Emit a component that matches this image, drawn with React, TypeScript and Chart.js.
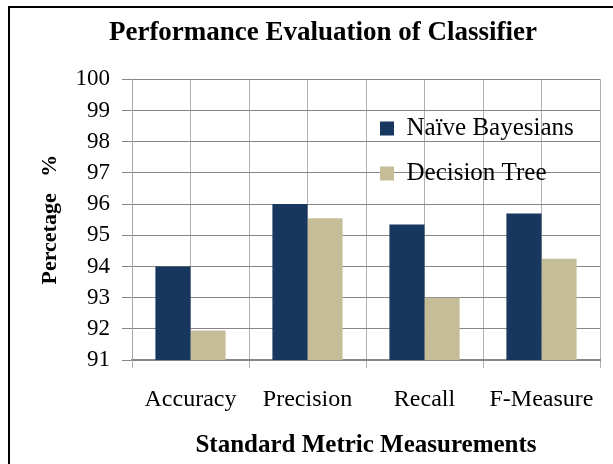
import React, { useEffect, useRef } from "react";
import { Chart, registerables } from "chart.js";

Chart.register(...registerables);

// ---- data ----
const categories = ["Accuracy", "Precision", "Recall", "F-Measure"];
const naiveBayesians = [94.0, 96.0, 95.35, 95.7];
const decisionTree = [91.95, 95.55, 93.0, 94.25];
const seriesNames = ["Naïve Bayesians", "Decision Tree"];
const chartTitle = "Performance Evaluation of Classifier";
const xAxisTitle = "Standard Metric Measurements";
const yAxisTitle = "Percetage   %";
const yMin = 91;
const yMax = 100;
const yStep = 1;
const halfCategoryGrid = ["", "", "", "", "", "", "", ""];

const FONT = "'Liberation Serif', 'Times New Roman', serif";
const NAVY = "#17375E";
const TAN = "#C4BD97";

export default function App() {
  const ref = useRef<HTMLCanvasElement>(null);

  useEffect(() => {
    if (!ref.current) return;
    Chart.defaults.color = "#000";

    const placer = {
      id: "placer",
      afterLayout(chart: any) {
        const lg = chart.legend;
        if (lg) {
          const pad = lg.options.labels.padding;
          const w = lg.width;
          const h = lg.height;
          lg.left = 380 - pad;
          lg.top = 116 - pad;
          lg.right = lg.left + w + 40;
          lg.bottom = lg.top + h;
        }
        const tb = chart.titleBlock;
        if (tb) {
          const center = 323;
          const half = (tb.right - tb.left) / 2;
          tb.left = center - half;
          tb.right = center + half;
        }
      },
    };

    const chart = new Chart(ref.current, {
      type: "bar",
      data: {
        labels: categories,
        datasets: [
          {
            label: seriesNames[0],
            data: naiveBayesians,
            backgroundColor: NAVY,
            borderWidth: 0,
            xAxisID: "x",
          },
          {
            label: seriesNames[1],
            data: decisionTree,
            backgroundColor: TAN,
            borderWidth: 0,
            xAxisID: "x",
          },
        ],
      },
      options: {
        responsive: false,
        animation: false,
        layout: { padding: { left: 0, right: 13, top: 0, bottom: 0 } },
        datasets: {
          bar: { categoryPercentage: 0.6, barPercentage: 1.0 },
        },
        plugins: {
          tooltip: { enabled: false },
          title: {
            display: true,
            text: chartTitle,
            color: "#000",
            font: { family: FONT, size: 27, weight: "bold" },
            padding: { top: 17, bottom: 30 },
          },
          legend: {
            display: true,
            position: "chartArea",
            align: "start",
            labels: {
              color: "#000",
              font: { family: FONT, size: 25 },
              boxWidth: 14,
              boxHeight: 14,
              padding: 20,
            },
          },
        },
        scales: {
          x: {
            type: "category",
            position: "bottom",
            offset: true,
            afterFit: (s: any) => {
              s.height = 104;
            },
            grid: {
              offset: true,
              color: "#b0b0b0",
              lineWidth: 1,
              tickLength: 8,
              drawTicks: true,
            },
            border: { display: true, color: "#868686", width: 2 },
            ticks: {
              color: "#000",
              font: { family: FONT, size: 24 },
              padding: 17,
              maxRotation: 0,
              autoSkip: false,
            },
            title: {
              display: true,
              text: xAxisTitle,
              color: "#000",
              font: { family: FONT, size: 25, weight: "bold" },
              padding: { top: 0, bottom: 3 },
            },
          },
          x2: {
            type: "category",
            position: "bottom",
            labels: halfCategoryGrid,
            offset: true,
            afterFit: (s: any) => {
              s.height = 0;
            },
            grid: {
              offset: true,
              color: "#b0b0b0",
              lineWidth: 1,
              drawTicks: false,
            },
            border: { display: false },
            ticks: { display: false },
          },
          y: {
            min: yMin,
            max: yMax,
            afterFit: (s: any) => {
              s.width = 132;
            },
            ticks: {
              stepSize: yStep,
              color: "#000",
              font: { family: FONT, size: 23 },
              padding: 12,
            },
            grid: {
              color: "#878787",
              lineWidth: 1,
              tickLength: 10,
            },
            border: { display: true, color: "#a6a6a6", width: 1 },
            title: {
              display: true,
              text: yAxisTitle,
              color: "#000",
              font: { family: FONT, size: 22, weight: "bold" },
              padding: { top: 37, bottom: 0 },
            },
          },
        },
      },
      plugins: [placer],
    } as any);

    return () => chart.destroy();
  }, []);

  return (
    <>
      <canvas
        ref={ref}
        width={613}
        height={464}
        style={{ position: "fixed", left: 0, top: 0, width: 613, height: 464, background: "#fff" }}
      />
      <div
        style={{
          position: "fixed",
          left: 8,
          top: 6,
          width: 605,
          height: 458,
          boxSizing: "border-box",
          borderLeft: "2px solid #000",
          borderTop: "2px solid #000",
          pointerEvents: "none",
        }}
      />
    </>
  );
}
